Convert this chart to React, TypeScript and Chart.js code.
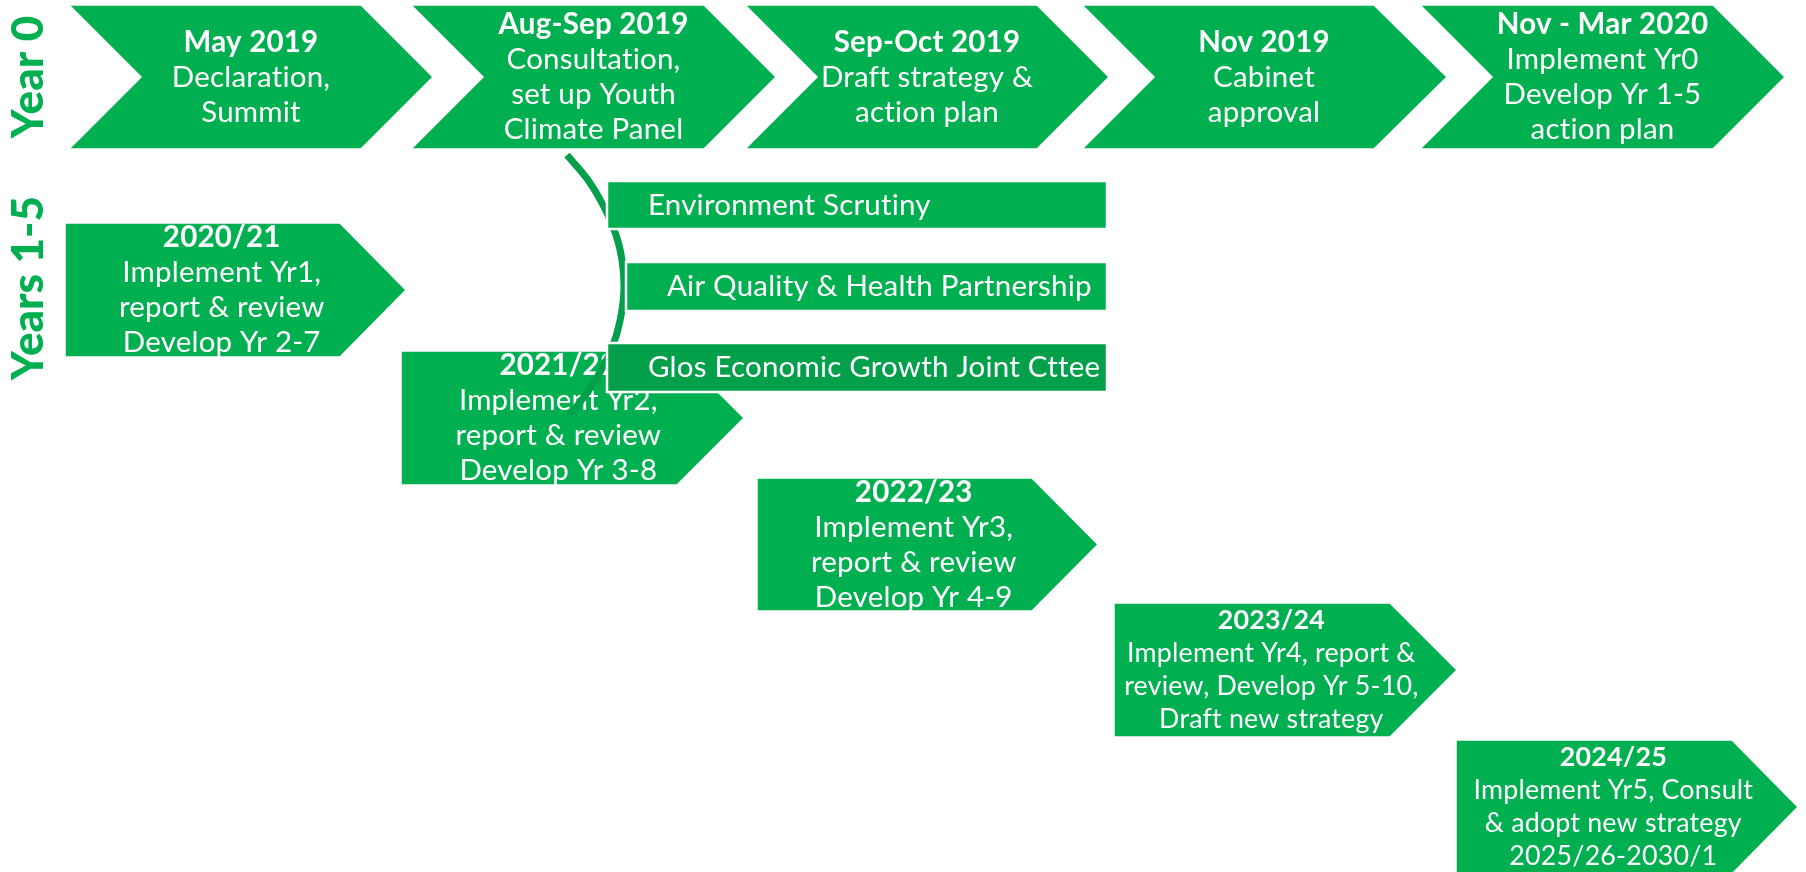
import React, { useEffect, useRef } from "react";
import { Chart, registerables } from "chart.js";

Chart.register(...registerables);

// ---------- Data (diagram units = reference pixels) ----------
// Year 0 stages (top chevrons)
const stageTitles = ["May 2019", "Aug-Sep 2019", "Sep-Oct 2019", "Nov 2019", "Nov - Mar 2020"];
const stageLines = [
  ["Declaration,", "Summit"],
  ["Consultation,", "set up Youth", "Climate Panel"],
  ["Draft strategy &", "action plan"],
  ["Cabinet", "approval"],
  ["Implement Yr0", "Develop Yr 1-5", "action plan"],
];
const stageLeft = [69, 411, 745, 1082, 1420];
const stageCorner = [361, 704, 1037, 1374, 1713];
const stageTip = [433, 776, 1109, 1447, 1785];
const stageNotch = [72, 72, 72, 72, 72];
const stageTop = [5, 5, 5, 5, 5];
const stageBottom = [149, 149, 149, 149, 149];

// Years 1-5 (staggered arrows)
const yearTitles = ["2020/21", "2021/22", "2022/23", "2023/24", "2024/25"];
const yearLines = [
  ["Implement Yr1,", "report & review", "Develop Yr 2-7"],
  ["Implement Yr2,", "report & review", "Develop Yr 3-8"],
  ["Implement Yr3,", "report & review", "Develop Yr 4-9"],
  ["Implement Yr4, report &", "review, Develop Yr 5-10,", "Draft new strategy"],
  ["Implement Yr5, Consult", "& adopt new strategy", "2025/26-2030/1"],
];
const yearLeft = [65, 401, 757, 1114, 1456];
const yearCorner = [340, 677, 1032, 1390, 1732];
const yearTip = [406, 744, 1098, 1457, 1798];
const yearTop = [223, 351, 478, 603, 740];
const yearBottom = [357, 485, 611, 737, 874];

// Committees
const committeeNames = ["Environment Scrutiny", "Air Quality & Health Partnership", "Glos Economic Growth Joint Cttee"];
const committeeLeft = [607, 626, 607];
const committeeRight = [1107, 1107, 1107];
const committeeTop = [181, 262, 343];
const committeeBottom = [229, 311, 392];
const committeeTextX = [648, 667, 648];

// Bracket arc (points along the curve)
const arcX = [567, 588, 603, 616, 622, 624, 622, 617, 611, 604, 589, 570];
const arcY = [155, 180, 205, 235, 260, 286, 310, 333, 350, 365, 390, 415];

// Side labels
const sideLabels = ["Year 0", "Years 1-5"];
const sideLabelY = [77, 288];
const sideLabelBaseX = [43, 43];

// ---------- Styles ----------
const GREEN = "#00B050";
const DARK_GREEN = "#02A04B";
const ARC_GREEN = "#049F4A";
const FONT = "Lato, 'Open Sans', sans-serif";

type Line = { text: string; bold: boolean };

function App() {
  const canvasRef = useRef<HTMLCanvasElement | null>(null);

  useEffect(() => {
    const canvas = canvasRef.current;
    if (!canvas) return;

    const datasets: any[] = [];
    let drawIdx = 0;
    const push = (ds: any) => {
      datasets.push({ ...ds, order: 1000 - drawIdx });
      drawIdx++;
    };

    // chevrons
    stageTitles.forEach((title, i) => {
      const mid = (stageTop[i] + stageBottom[i]) / 2;
      const pts = [
        { x: stageLeft[i], y: stageTop[i] },
        { x: stageCorner[i], y: stageTop[i] },
        { x: stageTip[i], y: mid },
        { x: stageCorner[i], y: stageBottom[i] },
        { x: stageLeft[i], y: stageBottom[i] },
        { x: stageLeft[i] + stageNotch[i], y: mid },
      ];
      const lines: Line[] = [{ text: title, bold: true }, ...stageLines[i].map((t) => ({ text: t, bold: false }))];
      push({
        type: "line",
        data: pts,
        showLine: false,
        pointRadius: 0,
        pointHoverRadius: 0,
        shape: true,
        shapeFill: GREEN,
        lines,
        textX: (stageLeft[i] + stageNotch[i] + stageCorner[i]) / 2,
        textY: mid,
        fontSize: 29.5,
        lineH: 35,
        align: "center",
      });
    });

    // year arrows
    yearTitles.forEach((title, i) => {
      const mid = (yearTop[i] + yearBottom[i]) / 2;
      const pts = [
        { x: yearLeft[i], y: yearTop[i] },
        { x: yearCorner[i], y: yearTop[i] },
        { x: yearTip[i], y: mid },
        { x: yearCorner[i], y: yearBottom[i] },
        { x: yearLeft[i], y: yearBottom[i] },
      ];
      const lines: Line[] = [{ text: title, bold: true }, ...yearLines[i].map((t) => ({ text: t, bold: false }))];
      const small = i >= 3;
      push({
        type: "line",
        data: pts,
        showLine: false,
        pointRadius: 0,
        pointHoverRadius: 0,
        shape: true,
        shapeFill: GREEN,
        lines,
        textX: yearLeft[i] + (yearCorner[i] - yearLeft[i]) * 0.57,
        textY: mid,
        fontSize: small ? 26.8 : 29.5,
        lineH: small ? 33 : 35,
        align: "center",
      });
    });

    // arc
    push({
      type: "line",
      data: arcX.map((x, i) => ({ x, y: arcY[i] })),
      showLine: true,
      borderColor: ARC_GREEN,
      borderWidth: 7,
      borderCapStyle: "butt",
      tension: 0.4,
      fill: false,
      pointRadius: 0,
      pointHoverRadius: 0,
    });

    // committees
    committeeNames.forEach((name, i) => {
      const pts = [
        { x: committeeLeft[i], y: committeeTop[i] },
        { x: committeeRight[i], y: committeeTop[i] },
        { x: committeeRight[i], y: committeeBottom[i] },
        { x: committeeLeft[i], y: committeeBottom[i] },
      ];
      push({
        type: "line",
        data: pts,
        showLine: false,
        pointRadius: 0,
        pointHoverRadius: 0,
        shape: true,
        shapeFill: i === 2 ? DARK_GREEN : GREEN,
        strokeW: 2.5,
        lines: [{ text: name, bold: false }],
        textX: committeeTextX[i],
        textY: (committeeTop[i] + committeeBottom[i]) / 2,
        fontSize: 29.5,
        lineH: 35,
        align: "left",
      });
    });

    const diagramPlugin = {
      id: "diagram",
      beforeDatasetsDraw(chart: any) {
        const ctx = chart.ctx as CanvasRenderingContext2D;
        const xs = chart.scales.x;
        const ys = chart.scales.y;
        ctx.save();
        sideLabels.forEach((lab, i) => {
          const px = xs.getPixelForValue(sideLabelBaseX[i]);
          const py = ys.getPixelForValue(sideLabelY[i]);
          ctx.save();
          ctx.translate(px, py);
          ctx.rotate(-Math.PI / 2);
          ctx.fillStyle = GREEN;
          ctx.font = `900 44px ${FONT}`;
          ctx.textAlign = "center";
          ctx.textBaseline = "alphabetic";
          ctx.fillText(lab, 0, 0);
          ctx.restore();
        });
        ctx.restore();
      },
      afterDatasetDraw(chart: any, args: any) {
        const ds = chart.data.datasets[args.index] as any;
        if (!ds.shape) return;
        const ctx = chart.ctx as CanvasRenderingContext2D;
        const xs = chart.scales.x;
        const ys = chart.scales.y;
        const pts = args.meta.data;
        ctx.save();
        ctx.beginPath();
        pts.forEach((p: any, k: number) => (k ? ctx.lineTo(p.x, p.y) : ctx.moveTo(p.x, p.y)));
        ctx.closePath();
        ctx.fillStyle = ds.shapeFill;
        ctx.fill();
        ctx.strokeStyle = "#ffffff";
        ctx.lineWidth = ds.strokeW || 1.5;
        ctx.lineJoin = "miter";
        ctx.stroke();

        const lines: Line[] = ds.lines;
        const cx = xs.getPixelForValue(ds.textX);
        const cy = ys.getPixelForValue(ds.textY);
        const n = lines.length;
        ctx.fillStyle = "#ffffff";
        ctx.textAlign = ds.align;
        ctx.textBaseline = "middle";
        try {
          (ctx as any).letterSpacing = "0.2px";
        } catch (e) {
          /* ignore */
        }
        lines.forEach((ln, k) => {
          ctx.font = `${ln.bold ? "bold " : ""}${ds.fontSize}px ${FONT}`;
          const y = cy + (k - (n - 1) / 2) * ds.lineH;
          ctx.fillText(ln.text, cx, y);
        });
        ctx.restore();
      },
    };

    const chart = new Chart(canvas, {
      type: "line",
      data: { datasets },
      options: {
        animation: false,
        responsive: false,
        maintainAspectRatio: false,
        devicePixelRatio: 1,
        layout: { padding: 0 },
        events: [],
        plugins: { legend: { display: false }, tooltip: { enabled: false }, title: { display: false } },
        scales: {
          x: { type: "linear", min: 0, max: 1806, display: false },
          y: { type: "linear", min: 0, max: 872, reverse: true, display: false },
        },
      } as any,
      plugins: [diagramPlugin as any],
    });

    return () => chart.destroy();
  }, []);

  return (
    <div style={{ position: "absolute", left: 0, top: 0, width: 1806, height: 872, background: "#ffffff" }}>
      <canvas ref={canvasRef} width={1806} height={872} style={{ width: 1806, height: 872, display: "block" }} />
    </div>
  );
}

export default App;
